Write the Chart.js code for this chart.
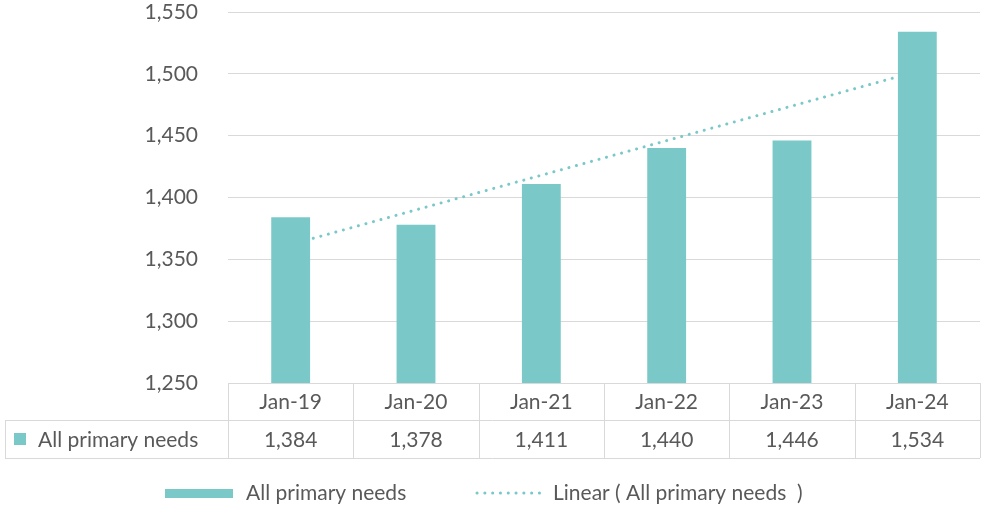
<!DOCTYPE html>
<html>
<head>
<meta charset="utf-8">
<script src="https://cdn.jsdelivr.net/npm/chart.js@4/dist/chart.umd.min.js"></script>
<style>
  html, body { margin: 0; padding: 0; background: #fff; }
  #wrap { width: 984px; height: 506px; position: relative; }
</style>
</head>
<body>
<div id="wrap"><canvas id="grafico"></canvas></div>
<script>
'use strict';
// dados
const categorias = ['Jan-19', 'Jan-20', 'Jan-21', 'Jan-22', 'Jan-23', 'Jan-24'];
const valores = [1384, 1378, 1411, 1440, 1446, 1534];
// linha de tendencia (inicio e fim)
const tendencia = [1362, null, null, null, null, 1502];
const nomeSerie = 'All primary needs';
const nomeTendencia = 'Linear ( All primary needs  )';

const COR = '#7BC8C9';
const TEXTO = '#595959';
const GRADE = '#D9D9D9';
const FONTE = 'Lato, "Open Sans", sans-serif';
const TAM = 21;

// tabela de dados + legenda desenhadas abaixo do grafico
const tabelaPlugin = {
    id: 'tabela',
    afterDraw(chart) {
        const c = chart.ctx;
        const area = chart.chartArea;
        const x = chart.scales.x;
        const topo = area.bottom;
        const meio = topo + 37;
        const fim = topo + 75;
        const esq = 5;
        c.save();
        c.strokeStyle = GRADE;
        c.lineWidth = 1;
        c.beginPath();
        c.moveTo(area.left, topo + 0.5); c.lineTo(area.right, topo + 0.5);
        c.moveTo(esq, meio + 0.5); c.lineTo(area.right, meio + 0.5);
        c.moveTo(esq, fim + 0.5); c.lineTo(area.right, fim + 0.5);
        c.moveTo(esq + 0.5, meio); c.lineTo(esq + 0.5, fim);
        const larg = (area.right - area.left) / categorias.length;
        for (let i = 0; i <= categorias.length; i++) {
            const px = Math.round(area.left + i * larg) + 0.5;
            c.moveTo(px, topo); c.lineTo(px, fim);
        }
        c.stroke();

        c.fillStyle = TEXTO;
        c.font = TAM + 'px ' + FONTE;
        c.textAlign = 'center';
        c.textBaseline = 'middle';
        categorias.forEach((cat, i) => {
            const cx = x.getPixelForValue(i);
            c.fillText(cat, cx, (topo + meio) / 2 + 1);
            c.fillText(valores[i].toLocaleString('en-US'), cx, (meio + fim) / 2 + 1);
        });
        c.fillStyle = COR;
        c.fillRect(14, (meio + fim) / 2 - 6, 12, 12);
        c.fillStyle = TEXTO;
        c.textAlign = 'left';
        c.fillText(nomeSerie, 38, (meio + fim) / 2 + 1);

        // legenda
        const ly = 493;
        c.fillStyle = COR;
        c.fillRect(165, ly - 4, 68, 9);
        c.fillStyle = TEXTO;
        c.fillText(nomeSerie, 246, ly);
        c.strokeStyle = COR;
        c.lineWidth = 3;
        c.lineCap = 'round';
        c.setLineDash([0.1, 7.7]);
        c.beginPath();
        c.moveTo(477, ly); c.lineTo(545, ly);
        c.stroke();
        c.setLineDash([]);
        c.fillStyle = TEXTO;
        c.fillText(nomeTendencia, 553, ly);
        c.restore();
    }
};

const ctx = document.getElementById('grafico').getContext('2d');
const grafico = new Chart(ctx, {
    plugins: [tabelaPlugin],
    data: {
        labels: categorias,
        datasets: [{
            type: 'line',
            label: nomeTendencia,
            data: tendencia,
            spanGaps: true,
            borderColor: COR,
            borderWidth: 3,
            borderCapStyle: 'round',
            borderDash: [0.1, 7.7],
            pointRadius: 0,
            fill: false,
            order: 0
        }, {
            type: 'bar',
            label: nomeSerie,
            data: valores,
            backgroundColor: COR,
            categoryPercentage: 1,
            barPercentage: 0.31,
            order: 1
        }]
    },
    options: {
        responsive: true,
        maintainAspectRatio: false,
        animation: false,
        layout: { padding: { top: 12, right: 4, bottom: 123, left: 0 } },
        scales: {
            x: {
                ticks: { display: false },
                grid: { display: false },
                border: { display: false },
                afterFit(scale) { scale.height = 0; }
            },
            y: {
                min: 1250,
                max: 1550,
                ticks: {
                    stepSize: 50,
                    color: TEXTO,
                    padding: 30,
                    font: { family: FONTE, size: TAM },
                    callback: (v) => v.toLocaleString('en-US')
                },
                grid: { color: GRADE, lineWidth: 1, drawTicks: false },
                border: { display: false },
                afterFit(scale) {
                    scale.width = 228;
                    scale.paddingTop = 0;
                    scale.paddingBottom = 0;
                }
            }
        },
        plugins: {
            legend: { display: false },
            tooltip: { enabled: false }
        }
    }
});
</script>
</body>
</html>
